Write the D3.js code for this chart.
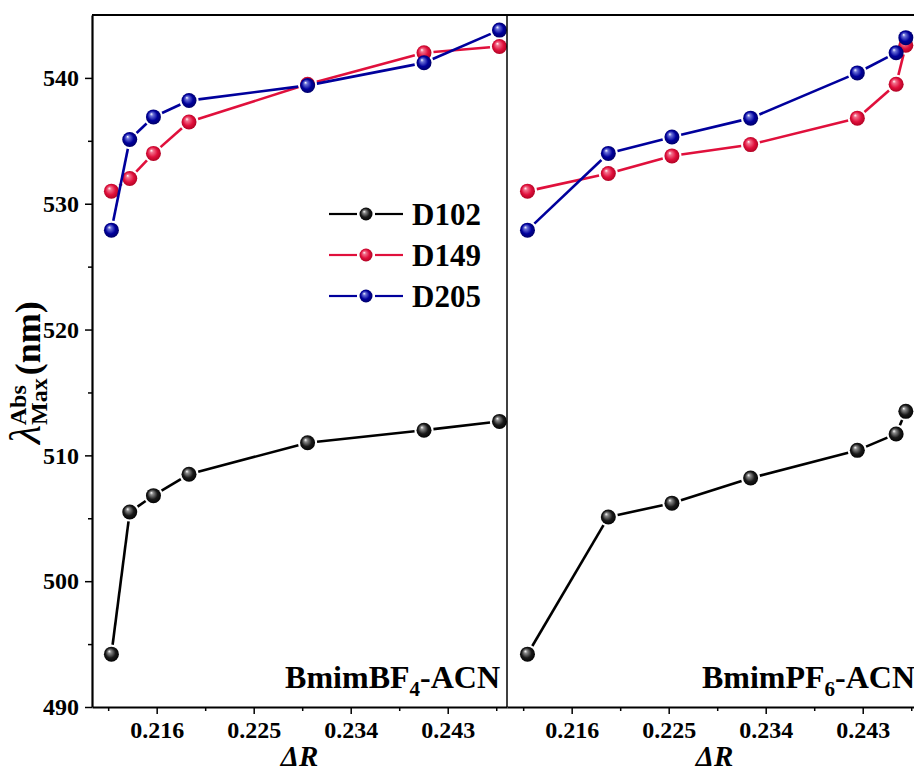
<!DOCTYPE html>
<html>
<head>
<meta charset="utf-8">
<script src="https://d3js.org/d3.v7.min.js"></script>
<style>
  body { margin: 0; background: #fff; }
  text { font-family: "Liberation Serif", "Times New Roman", serif; font-weight: bold; fill: #000; }
</style>
</head>
<body>
<svg id="chart" width="914" height="771"></svg>
<script>
// x values (ΔR) per panel
const dRBF4 = [0.2118, 0.2135, 0.2157, 0.2190, 0.2300, 0.2408, 0.2478];
const dRPF6 = [0.2119, 0.2194, 0.2253, 0.2326, 0.2425, 0.2461, 0.2470];

// λmax values (nm)
const bf4D102 = [494.2, 505.5, 506.8, 508.5, 511.0, 512.0, 512.7];
const bf4D149 = [531.0, 532.0, 534.0, 536.5, 539.5, 542.0, 542.5];
const bf4D205 = [527.9, 535.1, 536.9, 538.2, 539.4, 541.2, 543.8];

const pf6D102 = [494.2, 505.1, 506.2, 508.2, 510.4, 511.7, 513.5];
const pf6D149 = [531.0, 532.4, 533.8, 534.7, 536.8, 539.5, 542.6];
const pf6D205 = [527.9, 534.0, 535.3, 536.8, 540.4, 542.0, 543.2];

const seriesNames = ["D102", "D149", "D205"];
const xTicks = [0.216, 0.225, 0.234, 0.243];
const xMinor = [0.2115, 0.2205, 0.2295, 0.2385, 0.2475];
const yTicks = [490, 500, 510, 520, 530, 540];
const yMinor = [495, 505, 515, 525, 535];

const colors = {
  D102: { line: "#000000", stops: ["#ffffff", "#8a8a8a", "#1a1a1a", "#000000"] },
  D149: { line: "#e0103c", stops: ["#ffffff", "#f2708c", "#e0103c", "#a8001f"] },
  D205: { line: "#00009c", stops: ["#ffffff", "#6a70d8", "#00009c", "#000060"] },
};

const panels = [
  { label: ["BmimBF", "4", "-ACN"], x: dRBF4, data: [bf4D102, bf4D149, bf4D205], left: 92 },
  { label: ["BmimPF", "6", "-ACN"], x: dRPF6, data: [pf6D102, pf6D149, pf6D205], left: 507 },
];

const panelW = 415;
const plotTop = 15, plotBottom = 707;

const svg = d3.select("#chart");
const defs = svg.append("defs");

seriesNames.forEach((name) => {
  const g = defs.append("radialGradient")
    .attr("id", "ball-" + name)
    .attr("cx", 0.5).attr("cy", 0.5).attr("r", 0.55)
    .attr("fx", 0.35).attr("fy", 0.3);
  [0, 0.2, 0.6, 1].forEach((o, i) => {
    g.append("stop").attr("offset", o).attr("stop-color", colors[name].stops[i]);
  });
});

const y = d3.scaleLinear().domain([490, 545]).range([plotBottom, plotTop]);

// draw a line with small gaps next to each marker (Origin style)
const drawSeries = (g, xs, ys, xScale, name, r) => {
  const pts = xs.map((v, i) => [xScale(v), y(ys[i])]);
  const gap = r + 2;
  for (let i = 0; i < pts.length - 1; i++) {
    const [x1, y1] = pts[i], [x2, y2] = pts[i + 1];
    const len = Math.hypot(x2 - x1, y2 - y1);
    if (len <= gap * 2) continue;
    const ux = (x2 - x1) / len, uy = (y2 - y1) / len;
    g.append("line")
      .attr("x1", x1 + ux * gap).attr("y1", y1 + uy * gap)
      .attr("x2", x2 - ux * gap).attr("y2", y2 - uy * gap)
      .attr("stroke", colors[name].line)
      .attr("stroke-width", 2.6);
  }
  g.selectAll(null)
    .data(pts)
    .enter()
    .append("circle")
    .attr("cx", (d) => d[0])
    .attr("cy", (d) => d[1])
    .attr("r", r)
    .attr("fill", `url(#ball-${name})`);
};

panels.forEach((p, pi) => {
  const x = d3.scaleLinear().domain([0.21, 0.2485]).range([p.left, p.left + panelW]);
  const g = svg.append("g");

  // bottom axis
  g.append("g")
    .attr("transform", `translate(0,${plotBottom})`)
    .call(d3.axisBottom(x).tickValues(xMinor).tickSize(4).tickFormat(""))
    .call((a) => a.select(".domain").remove())
    .call((a) => a.selectAll("line").attr("stroke-width", 1.5));
  const xa = g.append("g")
    .attr("transform", `translate(0,${plotBottom})`)
    .call(d3.axisBottom(x).tickValues(xTicks).tickSize(7).tickPadding(7).tickFormat(d3.format(".3f")).tickSizeOuter(0));
  xa.select(".domain").attr("stroke-width", 2.2);
  xa.selectAll("line").attr("stroke-width", 1.5);
  xa.selectAll("text").attr("font-size", 24);

  // top border
  g.append("line")
    .attr("x1", p.left).attr("x2", p.left + panelW)
    .attr("y1", plotTop).attr("y2", plotTop)
    .attr("stroke", "#000").attr("stroke-width", 2);

  if (pi === 0) {
    g.append("g")
      .attr("transform", `translate(${p.left},0)`)
      .call(d3.axisLeft(y).tickValues(yMinor).tickSize(4).tickFormat(""))
      .call((a) => a.select(".domain").remove())
      .call((a) => a.selectAll("line").attr("stroke-width", 1.5));
    const ya = g.append("g")
      .attr("transform", `translate(${p.left},0)`)
      .call(d3.axisLeft(y).tickValues(yTicks).tickSize(7).tickPadding(6).tickSizeOuter(0));
    ya.select(".domain").attr("stroke-width", 2.2);
    ya.selectAll("line").attr("stroke-width", 1.5);
    ya.selectAll("text").attr("font-size", 24);
  } else {
    g.append("line")
      .attr("x1", p.left).attr("x2", p.left)
      .attr("y1", plotTop).attr("y2", plotBottom)
      .attr("stroke", "#000").attr("stroke-width", 1.5);
  }

  p.data.forEach((vals, si) => drawSeries(g, p.x, vals, x, seriesNames[si], 7.5));

  // panel label
  const lab = g.append("text")
    .attr("x", p.left + panelW - 7)
    .attr("y", 688)
    .attr("text-anchor", "end")
    .attr("font-size", 32);
  lab.append("tspan").text(p.label[0]);
  lab.append("tspan").attr("font-size", 21).attr("dy", 8).text(p.label[1]);
  lab.append("tspan").attr("dy", -8).text(p.label[2]);

  // x title
  const xt = g.append("text")
    .attr("x", p.left + panelW / 2)
    .attr("y", 766)
    .attr("text-anchor", "middle")
    .attr("font-size", 29)
    .attr("font-style", "italic");
  xt.append("tspan").text("Δ");
  xt.append("tspan").text("R");
});

// y title
const yt = svg.append("text")
  .attr("transform", "translate(40,444) rotate(-90)")
  .attr("text-anchor", "start")
  .attr("font-size", 36);
yt.append("tspan").attr("font-style", "italic").attr("font-weight", "normal").attr("font-size", 44).text("λ");
yt.append("tspan").attr("font-size", 24).attr("dy", 7).text("Max");
yt.append("tspan").attr("font-size", 24).attr("dx", -47).attr("dy", -21).text("Abs");
yt.append("tspan").attr("dx", 10).attr("dy", 14).text("(nm)");

// legend
const legend = svg.append("g");
seriesNames.forEach((name, i) => {
  const ly = 214 + i * 41;
  const row = legend.append("g");
  row.append("line").attr("x1", 329).attr("x2", 357).attr("y1", ly).attr("y2", ly)
    .attr("stroke", colors[name].line).attr("stroke-width", 2.2);
  row.append("line").attr("x1", 375).attr("x2", 403).attr("y1", ly).attr("y2", ly)
    .attr("stroke", colors[name].line).attr("stroke-width", 2.2);
  row.append("circle").attr("cx", 366).attr("cy", ly).attr("r", 6.5)
    .attr("fill", `url(#ball-${name})`);
  row.append("text").attr("x", 412).attr("y", ly + 11).attr("font-size", 31).text(name);
});
</script>
</body>
</html>
